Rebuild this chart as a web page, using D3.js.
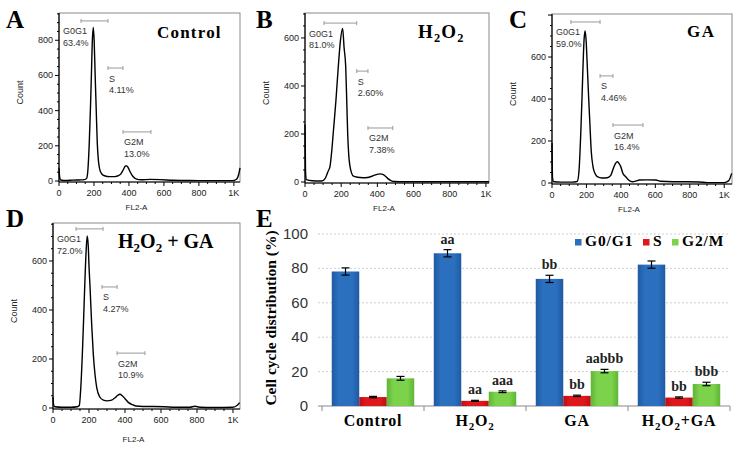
<!DOCTYPE html>
<html><head><meta charset="utf-8">
<script src="https://cdn.jsdelivr.net/npm/d3@7"></script>
<style>body{margin:0;background:#fff}</style>
</head><body><svg id="c" width="743" height="451"></svg>
<script>
// ---------- Histogram data (channel, count) ----------
const histA = [[0,75],[4,20],[10,6],[40,3],[80,5],[120,6],[145,8],[158,15],[165,60],[173,214],[180,420],[185,593],[190,780],[196,873],[201,800],[207,593],[213,400],[219,214],[226,110],[234,62],[245,40],[260,30],[290,25],[320,25],[340,30],[355,42],[368,65],[380,85],[388,86],[396,75],[408,50],[422,27],[440,12],[470,7],[520,9],[580,8],[650,4],[720,3],[800,2],[900,2],[990,2],[1015,10],[1028,40],[1035,75]];
const histB = [[0,240],[3,40],[8,10],[40,5],[80,4],[100,6],[115,20],[128,45],[138,64],[148,130],[156,203],[171,340],[184,480],[196,590],[208,640],[216,560],[225,480],[231,330],[236,200],[242,110],[249,64],[258,36],[268,24],[290,20],[320,18],[345,19],[370,24],[395,31],[415,34],[430,32],[445,24],[460,13],[475,6],[495,2],[550,1],[700,1],[900,1],[1017,1]];
const histC = [[0,190],[3,25],[10,6],[50,4],[100,4],[130,5],[147,8],[157,60],[167,237],[174,400],[180,554],[186,680],[192,724],[198,680],[205,554],[212,420],[219,300],[228,150],[238,78],[250,45],[263,30],[290,24],[320,25],[340,35],[360,78],[370,95],[380,101],[390,92],[399,78],[412,45],[428,30],[445,14],[467,6],[490,10],[506,14],[550,15],[603,14],[630,8],[700,6],[780,6],[855,5],[900,2],[1000,2],[1025,10],[1043,46]];
const histD = [[0,45],[3,15],[10,5],[50,3],[100,3],[135,5],[146,10],[155,90],[163,219],[170,360],[176,491],[184,640],[190,702],[196,660],[200,580],[206,491],[215,340],[224,219],[233,140],[243,83],[260,45],[280,32],[300,29],[326,32],[345,42],[360,52],[372,56],[385,50],[400,38],[420,22],[437,15],[460,8],[500,6],[560,6],[620,5],[680,3],[760,3],[789,7],[815,3],[900,2],[1000,3],[1022,10],[1037,22]];

// gates: [from channel, to channel, count level]
const gateNames = ["G0G1","S","G2M"];
const gatesA = [[126,280,910],[280,366,642],[366,526,279]];
const gatesB = [[105,286,662],[286,348,462],[348,485,225]];
const gatesC = [[110,279,767],[279,354,510],[354,528,276]];
const gatesD = [[128,278,731],[272,356,494],[356,511,224]];
const pctA = ["63.4%","4.11%","13.0%"];
const pctB = ["81.0%","2.60%","7.38%"];
const pctC = ["59.0%","4.46%","16.4%"];
const pctD = ["72.0%","4.27%","10.9%"];

const xTickVals = [0,200,400,600,800,1000];
const xTickLabels = ["0","200","400","600","800","1K"];
const yTicksA = [0,200,400,600,800];
const yTicksB = [0,200,400,600];
const yTicksC = [0,200,400,600];
const yTicksD = [0,200,400,600];

// ---------- Bar chart data ----------
const categories = ["Control","H2O2","GA","H2O2+GA"];
const seriesNames = ["G0/G1","S","G2/M"];
const g0g1 = [78.2, 88.8, 73.9, 82.2];
const g0g1Err = [2.1, 2.1, 2.1, 2.1];
const sPhase = [5.2, 3.0, 5.9, 4.9];
const sPhaseErr = [0.4, 0.3, 0.4, 0.4];
const g2m = [16.1, 8.3, 20.3, 12.8];
const g2mErr = [1.1, 0.5, 1.0, 1.0];
const yTicksE = [0,20,40,60,80,100];
const annotations = [
  ["H2O2","G0/G1","aa"],["H2O2","S","aa"],["H2O2","G2/M","aaa"],
  ["GA","G0/G1","bb"],["GA","S","bb"],["GA","G2/M","aabbb"],
  ["H2O2+GA","S","bb"],["H2O2+GA","G2/M","bbb"]
];

// ---------- Drawing ----------
const svg = d3.select("#c");
svg.append("rect").attr("width",743).attr("height",451).attr("fill","#fff");
const SERIF = "'Liberation Serif','Times New Roman',serif";
const SANS = "'Liberation Sans',Arial,sans-serif";

const panels = [
  {letter:"A", lx:6, ly:28, hist:histA, gates:gatesA, pct:pctA, yTicks:yTicksA, L:59,T:13,R:240,B:182, xMax:1035, yMax:955,
   title:[["Control",0]], tx:157, ty:38, tfs:17, tls:1.2, xlab:210},
  {letter:"B", lx:256, ly:28, hist:histB, gates:gatesB, pct:pctB, yTicks:yTicksB, L:305,T:13,R:489,B:183, xMax:1017, yMax:704,
   title:[["H",0],["2",1],["O",0],["2",1]], tx:418, ty:38, tfs:19, tls:1.2, xlab:211},
  {letter:"C", lx:509, ly:28, hist:histC, gates:gatesC, pct:pctC, yTicks:yTicksC, L:552,T:14,R:732,B:184, xMax:1045, yMax:805,
   title:[["GA",0]], tx:687, ty:37, tfs:17, tls:1.5, xlab:212},
  {letter:"D", lx:6, ly:227, hist:histD, gates:gatesD, pct:pctD, yTicks:yTicksD, L:53,T:223,R:240,B:409, xMax:1039, yMax:755,
   title:[["H",0],["2",1],["O",0],["2",1],[" + GA",0]], tx:118, ty:248, tfs:20, tls:0, xlab:442}
];

panels.forEach(p => {
  const g = svg.append("g");
  const x = d3.scaleLinear().domain([0,p.xMax]).range([p.L,p.R]);
  const y = d3.scaleLinear().domain([0,p.yMax]).range([p.B-1,p.T]);
  // frame
  g.append("rect").attr("x",p.L).attr("y",p.T).attr("width",p.R-p.L).attr("height",p.B-p.T)
    .attr("fill","none").attr("stroke","#8a8a8a").attr("stroke-width",1);
  g.append("line").attr("x1",p.L).attr("x2",p.L).attr("y1",p.T).attr("y2",p.B).attr("stroke","#000").attr("stroke-width",1.2);
  g.append("line").attr("x1",p.L).attr("x2",p.R).attr("y1",p.B).attr("y2",p.B).attr("stroke","#000").attr("stroke-width",1.2);
  // y ticks
  for (let v=0; v<=p.yMax; v+=50) {
    const len = v%200===0 ? 4 : 2;
    g.append("line").attr("x1",p.L-len).attr("x2",p.L).attr("y1",y(v)).attr("y2",y(v)).attr("stroke","#000");
  }
  for (let v=0; v<=p.xMax; v+=50) {
    const len = v%200===0 ? 4 : 2;
    g.append("line").attr("x1",x(v)).attr("x2",x(v)).attr("y1",p.B).attr("y2",p.B+len).attr("stroke","#000");
  }
  p.yTicks.forEach(v => {
    g.append("text").attr("x",p.L-6).attr("y",y(v)+3).attr("text-anchor","end")
      .attr("font-family",SANS).attr("font-size",9).attr("fill","#222").text(v);
  });
  xTickVals.forEach((v,i) => {
    g.append("text").attr("x",x(v)).attr("y",p.B+14).attr("text-anchor","middle")
      .attr("font-family",SANS).attr("font-size",9).attr("fill","#222").text(xTickLabels[i]);
  });
  g.append("text").attr("x",(p.L+p.R)/2-13).attr("y",p.xlab).attr("text-anchor","middle")
    .attr("font-family",SANS).attr("font-size",8).attr("fill","#222").text("FL2-A");
  g.append("text").attr("transform",`translate(${p.L-36},${(p.T+p.B)/2-5}) rotate(-90)`)
    .attr("text-anchor","middle").attr("font-family",SANS).attr("font-size",9).attr("fill","#222").text("Count");
  // curve
  const line = d3.line().x(d=>x(d[0])).y(d=>y(d[1])).curve(d3.curveMonotoneX);
  g.append("path").attr("d",line(p.hist)).attr("fill","none").attr("stroke","#000").attr("stroke-width",1.4);
  // gates
  p.gates.forEach((gt,i) => {
    const x1=x(gt[0]), x2=x(gt[1]), yy=y(gt[2]);
    g.append("line").attr("x1",x1).attr("x2",x2).attr("y1",yy).attr("y2",yy).attr("stroke","#999").attr("stroke-width",1);
    [x1,x2].forEach(xx=>g.append("line").attr("x1",xx).attr("x2",xx).attr("y1",yy-2).attr("y2",yy+2).attr("stroke","#999"));
    const lx = i===0 ? p.L+4 : x1+1;
    g.append("text").attr("x",lx).attr("y",yy+13.5).attr("font-family",SANS).attr("font-size",9).attr("fill","#333").text(gateNames[i]);
    g.append("text").attr("x",lx).attr("y",yy+25).attr("font-family",SANS).attr("font-size",9).attr("fill","#333").text(p.pct[i]);
  });
  // title
  const t = g.append("text").attr("x",p.tx).attr("y",p.ty).attr("font-family",SERIF).attr("font-weight","bold")
    .attr("font-size",p.tfs).attr("letter-spacing",p.tls).attr("fill","#000");
  let prevSub = false;
  p.title.forEach(part => {
    const ts = t.append("tspan").text(part[0]);
    if (part[1]) { ts.attr("font-size",p.tfs*0.65).attr("dy",4); prevSub=true; }
    else if (prevSub) { ts.attr("dy",-4); prevSub=false; }
  });
  svg.append("text").attr("x",p.lx).attr("y",p.ly).attr("font-family",SERIF).attr("font-weight","bold")
    .attr("font-size",25).attr("fill","#000").text(p.letter);
});

// ---------- Panel E ----------
svg.append("text").attr("x",256).attr("y",227).attr("font-family",SERIF).attr("font-weight","bold")
  .attr("font-size",25).attr("fill","#000").text("E");
const gE = svg.append("g");
const x0 = d3.scaleBand().domain(categories).range([322,730]);
const x1 = d3.scaleBand().domain(seriesNames).range([0,x0.bandwidth()]).paddingOuter(0.355);
const yE = d3.scaleLinear().domain([0,100]).range([406,234]);
const colors = {"G0/G1":"#2b6fbf","S":"#e0181c","G2/M":"#7dd24c"};
const darks = {"G0/G1":"#1f5aa0","S":"#b80f12","G2/M":"#5fb535"};

const defs = svg.append("defs");
seriesNames.forEach((s,i)=>{
  const gr = defs.append("linearGradient").attr("id","gr"+i).attr("x1","0").attr("x2","1").attr("y1","0").attr("y2","0");
  gr.append("stop").attr("offset","0").attr("stop-color",darks[s]);
  gr.append("stop").attr("offset","0.25").attr("stop-color",colors[s]);
  gr.append("stop").attr("offset","0.75").attr("stop-color",colors[s]);
  gr.append("stop").attr("offset","1").attr("stop-color",darks[s]);
});

yTicksE.forEach(v => {
  if (v>0) gE.append("line").attr("x1",318).attr("x2",730).attr("y1",yE(v)).attr("y2",yE(v))
    .attr("stroke","#cfcfcf").attr("stroke-dasharray","2,2").attr("stroke-width",1);
  gE.append("text").attr("x",308).attr("y",yE(v)+5).attr("text-anchor","end")
    .attr("font-family",SANS).attr("font-size",15).attr("fill","#333").text(v);
});
gE.append("line").attr("x1",318).attr("x2",730).attr("y1",406).attr("y2",406).attr("stroke","#8a8a8a").attr("stroke-width",1);
[...categories.map(c=>x0(c)), 730].forEach(xx=>{
  gE.append("line").attr("x1",xx).attr("x2",xx).attr("y1",406).attr("y2",411).attr("stroke","#8a8a8a");
});

const values = {"G0/G1":g0g1,"S":sPhase,"G2/M":g2m};
const errs = {"G0/G1":g0g1Err,"S":sPhaseErr,"G2/M":g2mErr};
categories.forEach((c,ci)=>{
  seriesNames.forEach((s,si)=>{
    const v = values[s][ci], e = errs[s][ci];
    const bx = x0(c)+x1(s), bw = x1.bandwidth();
    gE.append("rect").attr("x",bx).attr("y",yE(v)).attr("width",bw).attr("height",yE(0)-yE(v))
      .attr("fill",`url(#gr${si})`);
    const cx = bx+bw/2;
    gE.append("line").attr("x1",cx).attr("x2",cx).attr("y1",yE(v+e)).attr("y2",yE(v-e)).attr("stroke","#000").attr("stroke-width",1.2);
    [v+e,v-e].forEach(yy=>gE.append("line").attr("x1",cx-4).attr("x2",cx+4).attr("y1",yE(yy)).attr("y2",yE(yy)).attr("stroke","#000").attr("stroke-width",1.2));
  });
});
annotations.forEach(a=>{
  const ci = categories.indexOf(a[0]);
  const v = values[a[1]][ci]+errs[a[1]][ci];
  gE.append("text").attr("x",x0(a[0])+x1(a[1])+x1.bandwidth()/2).attr("y",yE(v)-6)
    .attr("text-anchor","middle").attr("font-family",SERIF).attr("font-weight","bold")
    .attr("font-size",14).attr("fill","#222").text(a[2]);
});
// category labels
categories.forEach(c=>{
  const t = gE.append("text").attr("x",x0(c)+x0.bandwidth()/2).attr("y",426).attr("text-anchor","middle")
    .attr("font-family",SERIF).attr("font-weight","bold").attr("font-size",16).attr("letter-spacing",0.8).attr("fill","#000");
  const parts = c.split(/(2)/).filter(s=>s.length);
  let sub=false;
  parts.forEach(pt=>{
    const ts=t.append("tspan").text(pt);
    if (pt==="2") { ts.attr("font-size",11).attr("dy",4); sub=true; }
    else if (sub) { ts.attr("dy",-4); sub=false; }
  });
});
// y label
gE.append("text").attr("transform","translate(276,318) rotate(-90)").attr("text-anchor","middle")
  .attr("font-family",SERIF).attr("font-weight","bold").attr("font-size",15.5).attr("fill","#000")
  .text("Cell cycle distribution (%)");
// legend
const legX = [575,643,672];
seriesNames.forEach((s,i)=>{
  gE.append("rect").attr("x",legX[i]).attr("y",239).attr("width",6.5).attr("height",6.5).attr("fill",colors[s]);
  gE.append("text").attr("x",legX[i]+10).attr("y",246).attr("font-family",SERIF).attr("font-weight","bold")
    .attr("font-size",15.5).attr("letter-spacing",0.9).attr("fill","#000").text(s);
});
</script>
</body></html>
